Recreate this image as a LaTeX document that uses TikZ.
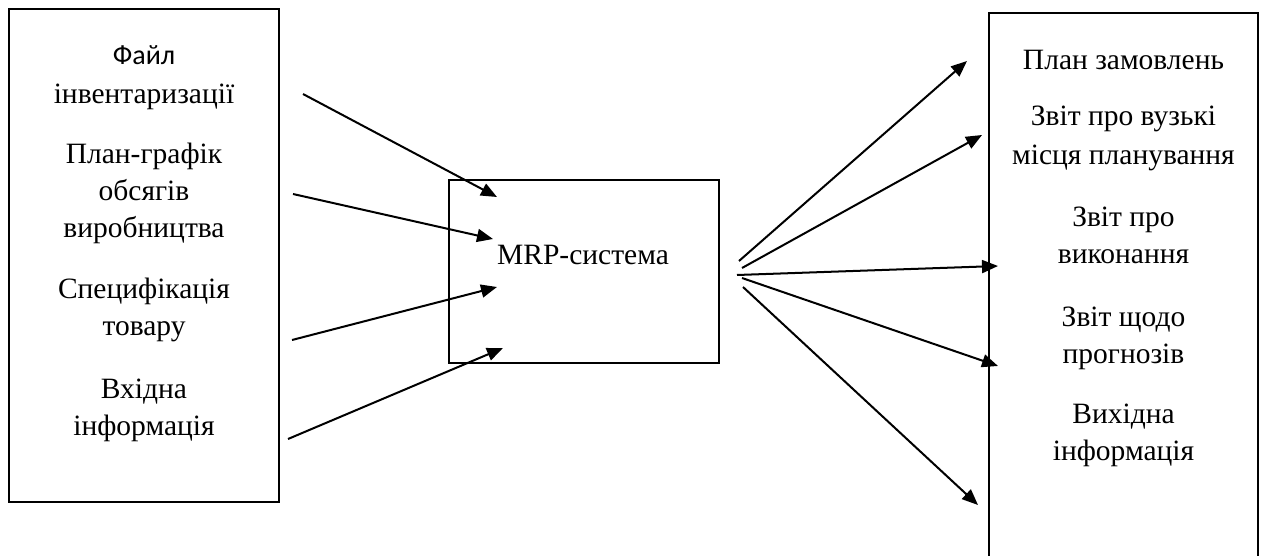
\documentclass[tikz,border=0pt]{standalone}
\usepackage{fontspec}
\setmainfont{Liberation Serif}
\newfontfamily\calibrifont{Carlito}
\usetikzlibrary{arrows.meta}
\begin{document}
\begin{tikzpicture}[x=1pt,y=-1pt,
  box/.style={draw, line width=2pt, inner sep=0pt},
  lbl/.style={font=\fontsize{29.5}{37}\selectfont, anchor=base, align=center, inner sep=0pt},
  flow/.style={line width=2pt, -{Triangle[length=16pt,width=13pt]}}]
\clip (0,0) rectangle (1264,556);
\fill[white] (0,0) rectangle (1264,556);
% boxes
\node[box, minimum width=270pt, minimum height=493pt] (inbox) at (144,255.5) {};
\node[box, minimum width=270pt, minimum height=183pt] (mrp) at (584,271.5) {};
\node[box, minimum width=269pt, minimum height=587pt] (outbox) at (1123.5,306.5) {};
% left labels (anchor = baseline of last line)
\node[lbl] (l1) at (144,104) {{\fontsize{28}{37}\calibrifont Файл}\\[2pt]інвентаризації};
\node[lbl] (l2) at (144,238) {План-графік\\обсягів\\виробництва};
\node[lbl] (l3) at (144,335) {Специфікація\\товару};
\node[lbl] (l4) at (144,435) {Вхідна\\інформація};
% centre label
\node[lbl] (m) at (583,265) {MRP-система};
% right labels
\node[lbl] (r1) at (1123.5,70) {План замовлень};
\node[lbl] (r2) at (1123.5,165) {Звіт про вузькі\\[2pt]місця планування};
\node[lbl] (r3) at (1123.5,264) {Звіт про\\виконання};
\node[lbl] (r4) at (1123.5,363) {Звіт щодо\\прогнозів};
\node[lbl] (r5) at (1123.5,460) {Вихідна\\інформація};
% arrow ends
\coordinate (i1s) at (303,94);  \coordinate (i1e) at (497,197);
\coordinate (i2s) at (293,194); \coordinate (i2e) at (493,239);
\coordinate (i3s) at (292,340); \coordinate (i3e) at (497,287);
\coordinate (i4s) at (288,439); \coordinate (i4e) at (503,348);
\coordinate (o1s) at (739,261); \coordinate (o1e) at (967,61);
\coordinate (o2s) at (742,268); \coordinate (o2e) at (982,135);
\coordinate (o3s) at (737,275); \coordinate (o3e) at (998,266);
\coordinate (o4s) at (742,278); \coordinate (o4e) at (998,366);
\coordinate (o5s) at (743,287); \coordinate (o5e) at (978,505);
\foreach \a in {i1,i2,i3,i4,o1,o2,o3,o4,o5}
  \draw[flow] (\a s) -- (\a e);
\end{tikzpicture}
\end{document}
